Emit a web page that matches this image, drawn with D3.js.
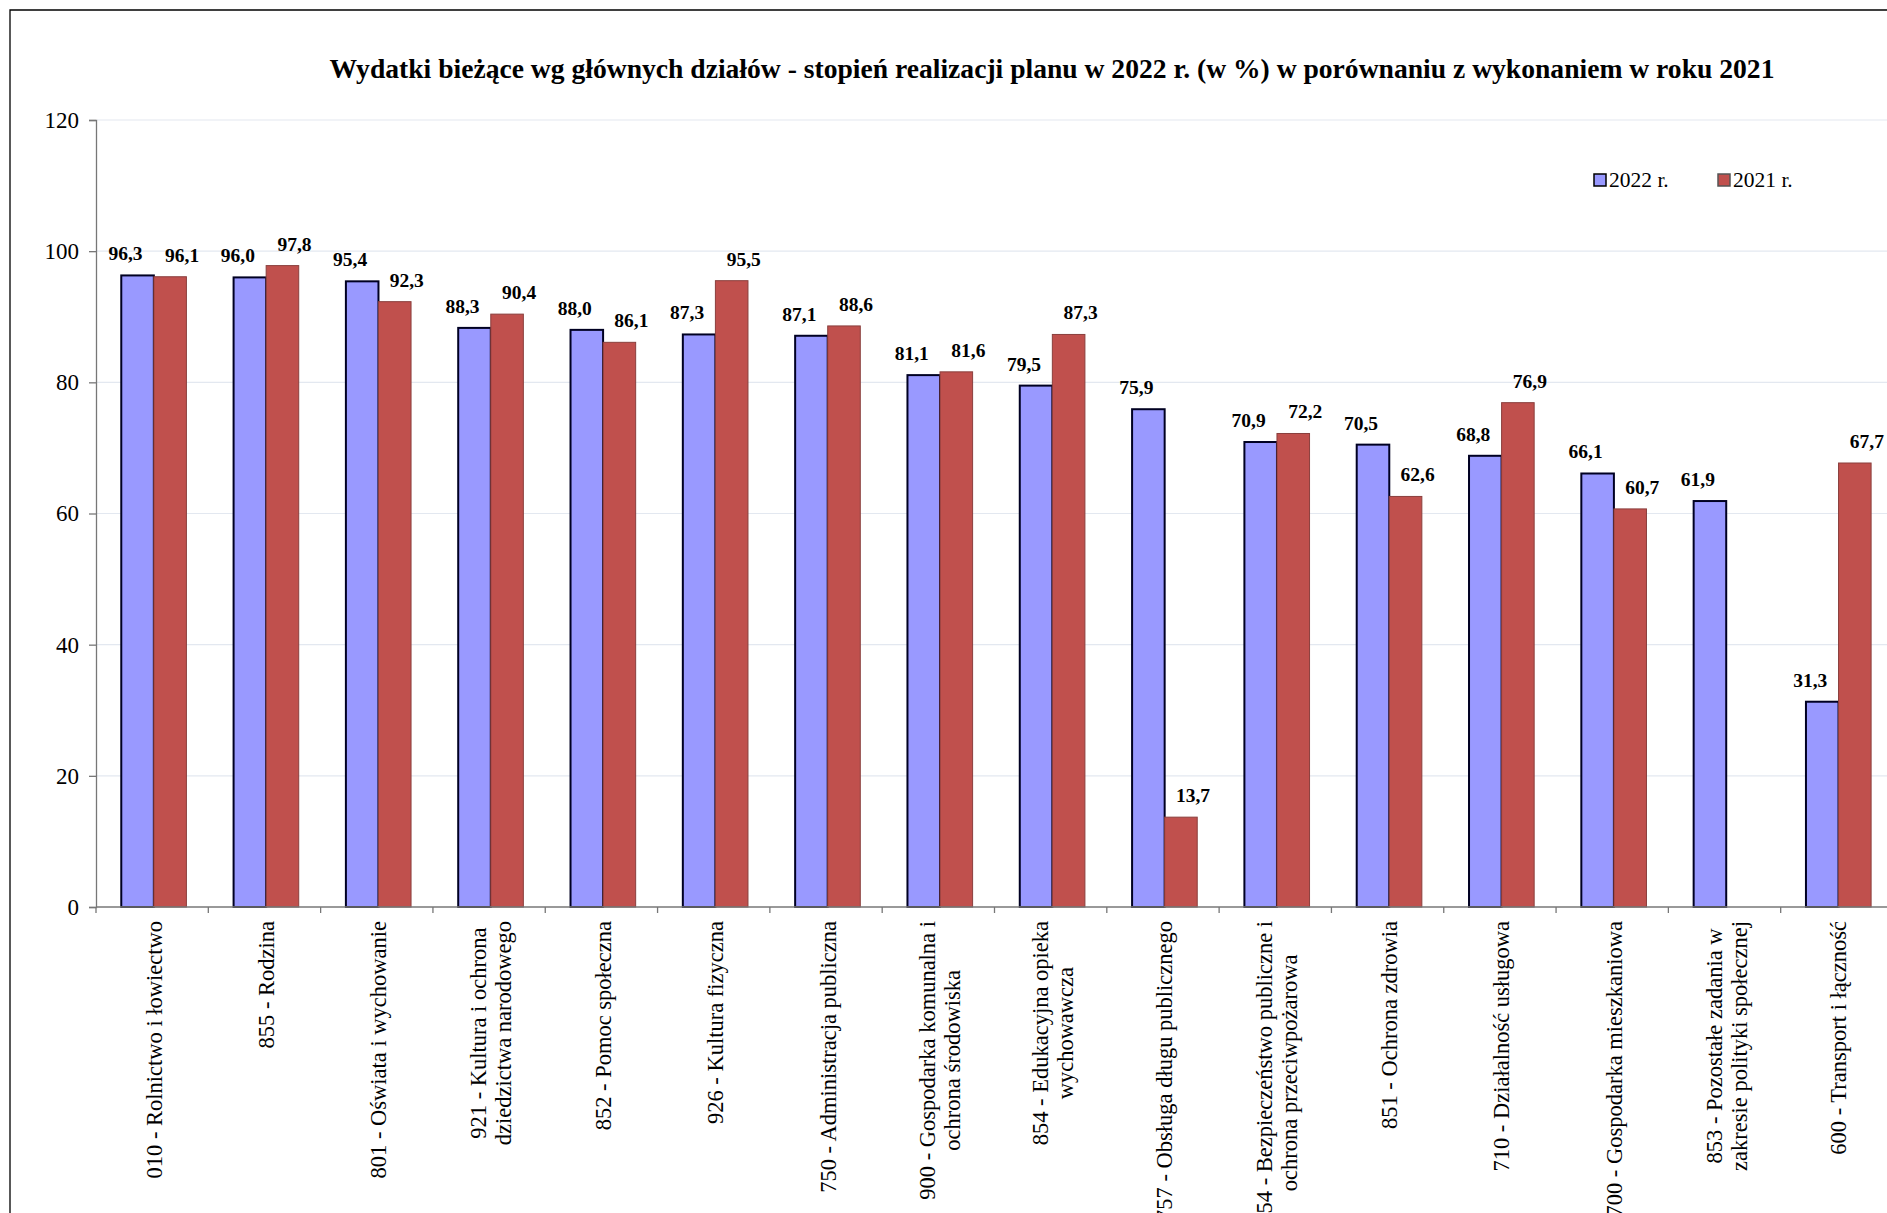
<!DOCTYPE html>
<html>
<head>
<meta charset="utf-8">
<script src="https://cdn.jsdelivr.net/npm/d3@7"></script>
<style>
  body { margin: 0; background: #fff; }
  svg { display: block; font-family: "Liberation Serif", "Times New Roman", serif; }
</style>
</head>
<body>
<div id="chart"></div>
<script>
// chart data
const categories = [
    "010 - Rolnictwo i łowiectwo",
    "855 - Rodzina",
    "801 - Oświata i wychowanie",
    "921 - Kultura i ochrona|dziedzictwa narodowego",
    "852 - Pomoc społeczna",
    "926 - Kultura fizyczna",
    "750 - Administracja publiczna",
    "900 - Gospodarka komunalna i|ochrona środowiska",
    "854 - Edukacyjna opieka|wychowawcza",
    "757 - Obsługa długu publicznego",
    "754 - Bezpieczeństwo publiczne i|ochrona przeciwpożarowa",
    "851 - Ochrona zdrowia",
    "710 - Działalność usługowa",
    "700 - Gospodarka mieszkaniowa",
    "853 - Pozostałe zadania w|zakresie polityki społecznej",
    "600 - Transport i łączność"
];
const values2022 = [96.3, 96.0, 95.4, 88.3, 88.0, 87.3, 87.1, 81.1, 79.5, 75.9, 70.9, 70.5, 68.8, 66.1, 61.9, 31.3];
const values2021 = [96.1, 97.8, 92.3, 90.4, 86.1, 95.5, 88.6, 81.6, 87.3, 13.7, 72.2, 62.6, 76.9, 60.7, null, 67.7];
const seriesNames = ["2022 r.", "2021 r."];
const yTicks = [0, 20, 40, 60, 80, 100, 120];
const titleText = "Wydatki bieżące wg głównych działów - stopień realizacji planu w 2022 r. (w %) w porównaniu z wykonaniem w roku 2021";

const W = 1887, H = 1213;
const colors = {"2022 r.": "#9999ff", "2021 r.": "#c0504d"};
const strokes = {"2022 r.": "#000022", "2021 r.": "#8a3f3d"};

const svg = d3.select("#chart").append("svg")
    .attr("width", W)
    .attr("height", H);

// outer frame
svg.append("path")
    .attr("d", `M10,${H + 5} L10,10 L${W + 5},10`)
    .attr("fill", "none")
    .attr("stroke", "#000")
    .attr("stroke-width", 1.3);

// title
svg.append("text")
    .attr("x", 1052)
    .attr("y", 78)
    .attr("text-anchor", "middle")
    .attr("font-weight", "bold")
    .attr("font-size", 27.6)
    .text(titleText);

// scales
const x0 = d3.scaleBand()
    .domain(categories)
    .range([96, 1893]);

const bw = x0.bandwidth();
const x1 = d3.scaleBand()
    .domain(seriesNames)
    .range([bw * 0.225, bw * 0.805]);

const y = d3.scaleLinear()
    .domain([0, 120])
    .range([907, 120]);

// gridlines
svg.append("g")
    .selectAll("line")
    .data(yTicks.filter(d => d > 0))
    .enter().append("line")
    .attr("x1", 97)
    .attr("x2", W)
    .attr("y1", d => y(d))
    .attr("y2", d => y(d))
    .attr("stroke", "#e3e8f0")
    .attr("stroke-width", 1.2);

// y axis
const yAxis = svg.append("g")
    .attr("transform", "translate(96,0)")
    .call(d3.axisLeft(y).tickValues(yTicks).tickSize(7).tickPadding(10));
yAxis.selectAll("path, line").attr("stroke", "#777").attr("stroke-width", 1.3);
yAxis.selectAll("text")
    .attr("font-family", "Liberation Serif")
    .attr("font-size", 23)
    .attr("fill", "#000");

// bars
const rows = categories.map((c, i) => ({
    cat: c,
    vals: [
        {name: "2022 r.", value: values2022[i]},
        {name: "2021 r.", value: values2021[i]}
    ].filter(v => v.value != null)
}));

const groups = svg.append("g")
    .selectAll("g")
    .data(rows)
    .enter().append("g")
    .attr("transform", d => `translate(${x0(d.cat)},0)`);

groups.selectAll("rect")
    .data(d => d.vals)
    .enter().append("rect")
    .attr("x", d => x1(d.name))
    .attr("width", x1.bandwidth())
    .attr("y", d => y(d.value))
    .attr("height", d => y(0) - y(d.value))
    .attr("fill", d => colors[d.name])
    .attr("stroke", d => strokes[d.name])
    .attr("stroke-width", d => d.name === "2022 r." ? 2 : 1);

// value labels
groups.selectAll("text.val")
    .data(d => d.vals)
    .enter().append("text")
    .attr("class", "val")
    .attr("x", d => x1(d.name) + x1.bandwidth() / 2 + (d.name === "2022 r." ? -12 : 12))
    .attr("y", d => y(d.value) - 15)
    .attr("text-anchor", "middle")
    .attr("font-weight", "bold")
    .attr("font-size", 19.5)
    .text(d => d3.format(".1f")(d.value).replace(".", ","));

// x axis line and boundary ticks
svg.append("line")
    .attr("x1", 96).attr("x2", W)
    .attr("y1", y(0)).attr("y2", y(0))
    .attr("stroke", "#777")
    .attr("stroke-width", 1.3);

svg.append("g")
    .selectAll("line")
    .data(categories)
    .enter().append("line")
    .attr("x1", d => x0(d)).attr("x2", d => x0(d))
    .attr("y1", y(0)).attr("y2", y(0) + 6)
    .attr("stroke", "#777")
    .attr("stroke-width", 1.3);

// category labels, rotated, lines centred on each other, block ending at the axis
const labelTop = 921;
const lineH = 25;
svg.append("g")
    .selectAll("text")
    .data(categories)
    .enter().append("text")
    .attr("font-size", 22.5)
    .attr("text-anchor", "middle")
    .each(function(d) {
        const t = d3.select(this);
        const lines = d.split("|");
        lines.forEach((ln, i) => {
            t.append("tspan")
                .attr("x", 0)
                .attr("y", (i - (lines.length - 1) / 2) * lineH)
                .attr("dominant-baseline", "central")
                .text(ln);
        });
        let maxLen = 0;
        t.selectAll("tspan").each(function() {
            maxLen = Math.max(maxLen, this.getComputedTextLength());
        });
        t.selectAll("tspan").attr("x", -maxLen / 2);
        t.attr("transform", `translate(${x0(d) + bw / 2 + 2},${labelTop}) rotate(-90)`);
    });

// legend
const legend = svg.append("g")
    .selectAll("g")
    .data(seriesNames)
    .enter().append("g")
    .attr("transform", (d, i) => `translate(${1594 + i * 124},174)`);

legend.append("rect")
    .attr("width", 12)
    .attr("height", 12)
    .attr("fill", d => colors[d])
    .attr("stroke", d => d === "2022 r." ? "#000" : "#555")
    .attr("stroke-width", 1.5);

legend.append("text")
    .attr("x", 15)
    .attr("y", 13)
    .attr("font-size", 21.5)
    .text(d => d);
</script>
</body>
</html>
